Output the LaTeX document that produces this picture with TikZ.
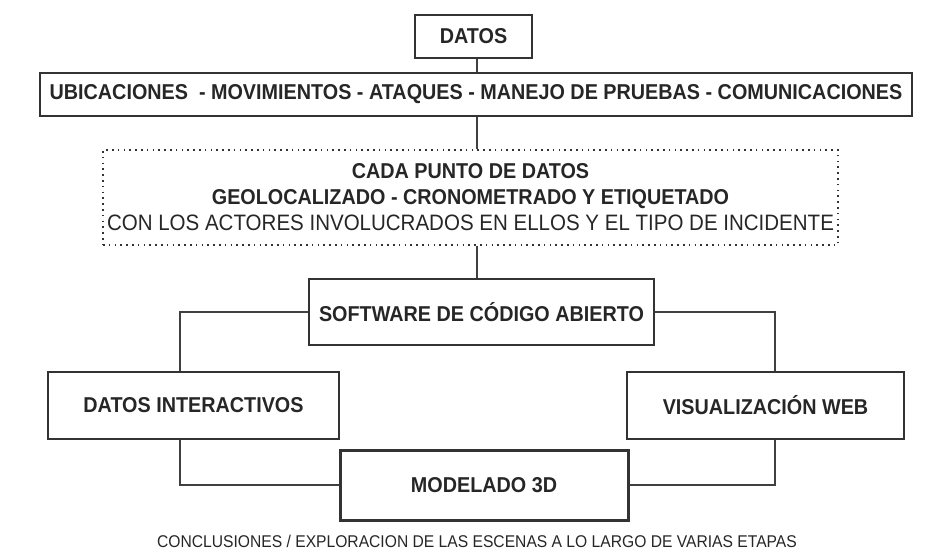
\documentclass[tikz,border=0pt]{standalone}
\usepackage{fontspec}
\setmainfont{Liberation Sans}
\newfontfamily\condfont[FakeStretch=0.92]{Liberation Sans}
\usetikzlibrary{calc}

\tikzset{
  box/.style={draw=black!80, line width=1.3pt, inner sep=0pt, align=center,
    font=\condfont\bfseries\fontsize{21.5}{26}\selectfont, text=black!85},
  dots/.style={dash pattern=on 1.6pt off 4.2pt, line width=1.8pt},
  link/.style={draw=black!75, line width=1.2pt}
}

\begin{document}
\begin{tikzpicture}[x=1pt, y=-1pt]
                  \useasboundingbox (0,0) rectangle (935,554);

                  \node[box, minimum width=117pt, minimum height=43pt] (datos) at (473.5, 36.5) {DATOS};
                  \node[box, minimum width=872pt, minimum height=43pt] (fuentes) at (476, 94.5)
                    {UBICACIONES \ - MOVIMIENTOS - ATAQUES - MANEJO DE PRUEBAS - COMUNICACIONES};
                  \node[box, dots, minimum width=735pt, minimum height=95pt] (punto) at (470.5, 197.5)
                    {CADA PUNTO DE DATOS\\
                     GEOLOCALIZADO - CRONOMETRADO Y ETIQUETADO\\
                     {\mdseries\fontsize{22.3}{26}\selectfont CON LOS ACTORES INVOLUCRADOS EN ELLOS Y EL TIPO DE INCIDENTE}};
                  \node[box, minimum width=345pt, minimum height=66pt] (software) at (481.5, 312) {SOFTWARE DE CÓDIGO ABIERTO};
                  \node[box, minimum width=291pt, minimum height=67pt] (interact) at (193.5, 405.5) {DATOS INTERACTIVOS};
                  \node[box, minimum width=277pt, minimum height=67pt] (webvis) at (765.5, 405.5) {VISUALIZACIÓN WEB};
                  \node[box, line width=3pt, minimum width=288pt, minimum height=70pt] (modelo) at (484, 485) {MODELADO 3D};
                  \node[font=\condfont\fontsize{17}{21}\selectfont, text=black!85] (concl) at (477, 541)
                    {CONCLUSIONES / EXPLORACION DE LAS ESCENAS A LO LARGO DE VARIAS ETAPAS};

                  % columnas de enlace
                  \coordinate (tronco) at (477, 0);
                  \coordinate (izq) at (180, 0);
                  \coordinate (der) at (775, 0);

                  \draw[link] (tronco |- datos.south) -- (tronco |- fuentes.north);
                  \draw[link] (tronco |- fuentes.south) -- (tronco |- punto.north);
                  \draw[link] (tronco |- punto.south) -- (tronco |- software.north);

                  \draw[link] (software.west) -| (izq |- interact.north);
                  \draw[link] (software.east) -| (der |- webvis.north);
                  \draw[link] (izq |- interact.south) |- (modelo.west);
                  \draw[link] (der |- webvis.south) |- (modelo.east);
\end{tikzpicture}
\end{document}
